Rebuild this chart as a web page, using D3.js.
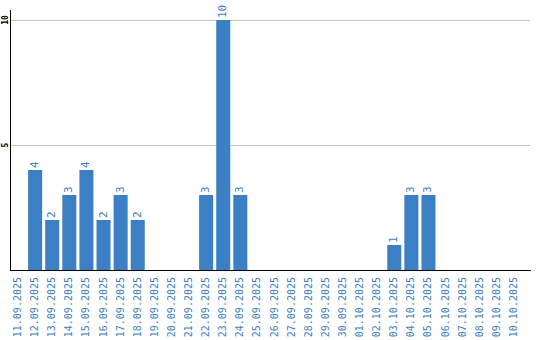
<!DOCTYPE html>
<html>
<head>
<meta charset="utf-8">
<script src="https://cdn.jsdelivr.net/npm/d3@7"></script>
<style>
  body { margin: 0; background: #fff; }
  svg { display: block; font-family: "DejaVu Sans Mono", "Liberation Mono", monospace; }
</style>
</head>
<body>
<svg width="540" height="340"></svg>
<script>
let dates = ['11.09.2025', '12.09.2025', '13.09.2025', '14.09.2025', '15.09.2025',
  '16.09.2025', '17.09.2025', '18.09.2025', '19.09.2025', '20.09.2025',
  '21.09.2025', '22.09.2025', '23.09.2025', '24.09.2025', '25.09.2025',
  '26.09.2025', '27.09.2025', '28.09.2025', '29.09.2025', '30.09.2025',
  '01.10.2025', '02.10.2025', '03.10.2025', '04.10.2025', '05.10.2025',
  '06.10.2025', '07.10.2025', '08.10.2025', '09.10.2025', '10.10.2025'];
let counts = [0, 4, 2, 3, 4, 2, 3, 2, 0, 0,
  0, 3, 10, 3, 0, 0, 0, 0, 0, 0,
  0, 0, 1, 3, 3, 0, 0, 0, 0, 0];
let yTicks = [5, 10];

let data = dates.map(function(d, i) {
  return { date: d, count: counts[i] };
});

let svg = d3.select('svg');
let plotLeft = 11, plotRight = 521, plotTop = 20, plotBottom = 270;

let x = d3.scaleBand().domain(dates).range([plotLeft, plotRight]).paddingInner(0.18).paddingOuter(0);
let y = d3.scaleLinear().domain([0, 10]).range([plotBottom, plotTop]);

// grid lines
svg.append('g')
  .selectAll('line')
  .data(yTicks)
  .join('line')
  .attr('x1', plotLeft)
  .attr('x2', 530)
  .attr('y1', d => y(d) + 0.5)
  .attr('y2', d => y(d) + 0.5)
  .style('stroke', '#c8c8c8');

// y tick labels (rotated)
svg.append('g')
  .selectAll('text')
  .data(yTicks)
  .join('text')
  .attr('transform', d => 'translate(8,' + y(d) + ') rotate(-90)')
  .attr('text-anchor', 'middle')
  .style('font-size', '8px')
  .style('font-weight', 'bold')
  .style('fill', '#000')
  .text(d => d);

// bars
svg.append('g')
  .selectAll('rect')
  .data(data.filter(d => d.count > 0))
  .join('rect')
  .attr('x', d => x(d.date))
  .attr('y', d => y(d.count))
  .attr('width', x.bandwidth())
  .attr('height', d => plotBottom - y(d.count))
  .style('fill', '#3b7fc4');

// value labels
svg.append('g')
  .selectAll('text')
  .data(data.filter(d => d.count > 0))
  .join('text')
  .attr('transform', d => 'translate(' + (x(d.date) + x.bandwidth() / 2 + 3) + ',' + (y(d.count) - 2) + ') rotate(-90)')
  .attr('text-anchor', 'start')
  .style('font-size', '11px')
  .style('fill', '#3b7fc4')
  .text(d => d.count);

// axes lines
svg.append('line')
  .attr('x1', 10.5).attr('x2', 10.5)
  .attr('y1', 10).attr('y2', plotBottom + 0.5)
  .style('stroke', '#000');
svg.append('line')
  .attr('x1', 10).attr('x2', 531)
  .attr('y1', plotBottom + 0.5).attr('y2', plotBottom + 0.5)
  .style('stroke', '#000');

// x labels
svg.append('g')
  .selectAll('text')
  .data(dates)
  .join('text')
  .attr('transform', d => 'translate(' + (x(d) + x.bandwidth() / 2 + 3) + ',' + (plotBottom + 7) + ') rotate(-90)')
  .attr('text-anchor', 'end')
  .style('font-size', '10px')
  .style('fill', '#3b7fc4')
  .text(d => d);
</script>
</body>
</html>
